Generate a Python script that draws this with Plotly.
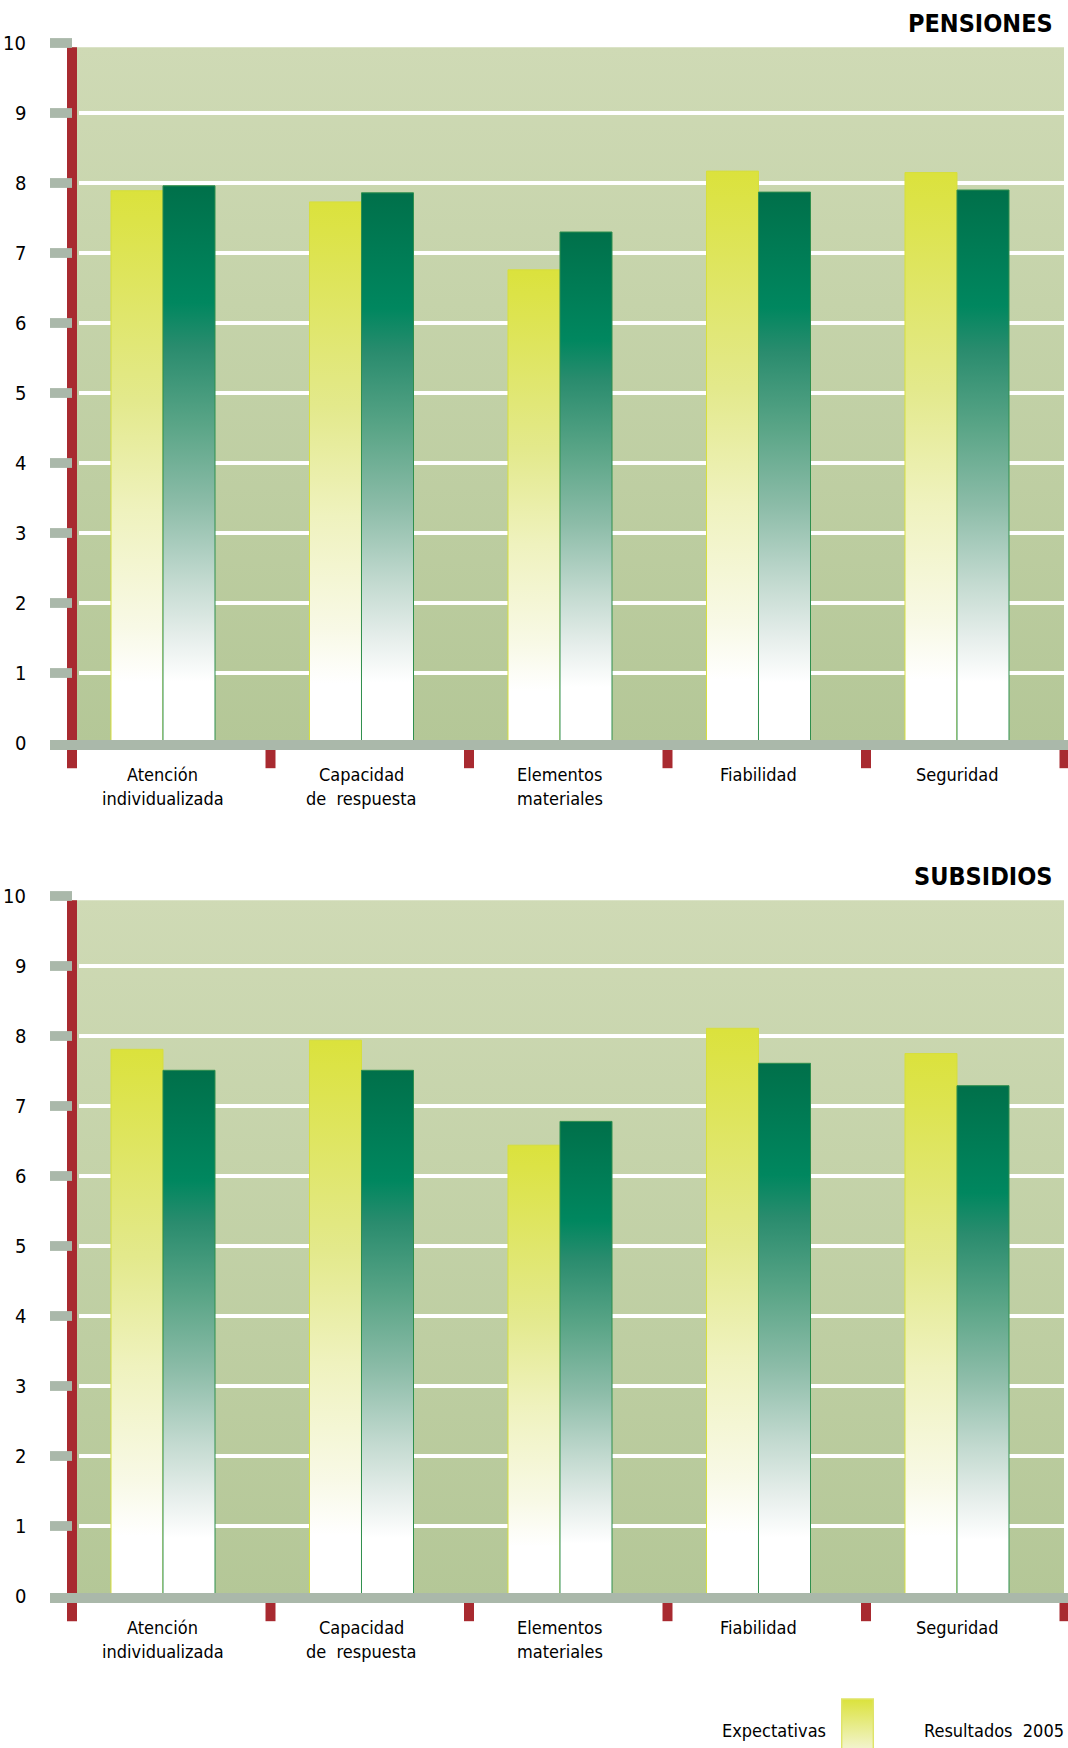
import plotly.graph_objects as go

# ---------------- data ----------------
categories = ["Atención<br>individualizada", "Capacidad<br>de  respuesta",
              "Elementos<br>materiales", "Fiabilidad", "Seguridad"]
panel_titles = ["PENSIONES", "SUBSIDIOS"]
expectativas_pensiones = [7.89, 7.73, 6.76, 8.17, 8.15]
resultados_pensiones = [7.96, 7.86, 7.30, 7.87, 7.90]
expectativas_subsidios = [7.81, 7.94, 6.44, 8.11, 7.75]
resultados_subsidios = [7.51, 7.51, 6.78, 7.61, 7.29]
y_ticks = list(range(0, 11))
legend_labels = ["Expectativas", "Resultados  2005"]

# ---------------- geometry / style ----------------
W, H = 1068, 1748
UNIT_X = 198.5          # px per category
AXIS_PX = 67            # px of left axis
LEFT_PX = 47
UNIT_Y = 70             # px per y unit
ZERO_PX = [743, 1596]   # px of y=0 in each panel
X_RANGE = [-0.5 - (AXIS_PX - LEFT_PX) / UNIT_X, -0.5 + (W - AXIS_PX) / UNIT_X]
Y_RANGE = [-0.4, 10.1]
BAR_W = 0.262
PAIR_SHIFT = -0.0164
BG_RIGHT = -0.5 + (1064 - AXIS_PX) / UNIT_X
BG_TOP = 9.94

FONT = "DejaVu Sans Condensed, sans-serif"
RED = "#A82A30"
GRAY = "#AAB8AA"
YELLOW_SCALE = [[0, "#FFFFFF"], [0.11, "#FFFFFF"], [0.21, "#F8F9E6"], [0.42, "#EFF2BE"],
                [0.62, "#E3E98C"], [1, "#DBE23C"]]
GREEN_SCALE = [[0, "#FFFFFF"], [0.11, "#FFFFFF"], [0.19, "#E6EEEB"], [0.29, "#C3DAD0"],
               [0.43, "#8CBCA8"], [0.57, "#5AA587"], [0.71, "#2A8C6E"], [0.79, "#00875F"],
               [1, "#00704A"]]
BG_SCALE = [[0, "#B4C797"], [1, "#CFDAB5"]]

panels = [
    (expectativas_pensiones, resultados_pensiones),
    (expectativas_subsidios, resultados_subsidios),
]

fig = go.Figure()
layout_axes = {}
shapes = []
annotations = []

for p, (exp_vals, res_vals) in enumerate(panels):
    xa = "x" if p == 0 else "x2"
    ya = "y" if p == 0 else "y2"
    zero = ZERO_PX[p]
    top_px = zero - Y_RANGE[1] * UNIT_Y
    bot_px = zero - Y_RANGE[0] * UNIT_Y
    xkey = "xaxis" if p == 0 else "xaxis2"
    ykey = "yaxis" if p == 0 else "yaxis2"
    layout_axes[xkey] = dict(domain=[LEFT_PX / W, 1], range=X_RANGE, visible=False,
                             anchor=ya, fixedrange=True)
    layout_axes[ykey] = dict(domain=[1 - bot_px / H, 1 - top_px / H], range=Y_RANGE,
                             visible=False, anchor=xa, fixedrange=True)

    # background gradient
    fig.add_trace(go.Scatter(
        x=[-0.5, -0.5, BG_RIGHT, BG_RIGHT, -0.5], y=[0, BG_TOP, BG_TOP, 0, 0],
        mode="lines", line=dict(width=0), fill="toself",
        fillgradient=dict(type="vertical", colorscale=BG_SCALE),
        xaxis=xa, yaxis=ya, hoverinfo="skip", showlegend=False))

    # white gridlines
    gx, gy = [], []
    for t in y_ticks:
        if 0 < t < 10:
            gx += [-0.5 + 12 / UNIT_X, BG_RIGHT, None]
            gy += [t, t, None]
    fig.add_trace(go.Scatter(x=gx, y=gy, mode="lines", line=dict(color="white", width=4),
                             xaxis=xa, yaxis=ya, hoverinfo="skip", showlegend=False))

    # bars
    for i, cat in enumerate(categories):
        c = i + PAIR_SHIFT
        for vals, x0, x1, scale, edge, name in [
            (exp_vals, c - BAR_W, c, YELLOW_SCALE, "#D6DE3E", legend_labels[0]),
            (res_vals, c, c + BAR_W, GREEN_SCALE, "#2F8F4E", legend_labels[1]),
        ]:
            v = vals[i]
            fig.add_trace(go.Scatter(
                x=[x0, x0, x1, x1, x0], y=[0, v, v, 0, 0], mode="lines",
                line=dict(color=edge, width=1), fill="toself",
                fillgradient=dict(type="vertical", colorscale=scale),
                xaxis=xa, yaxis=ya, name=name, showlegend=False,
                hovertemplate=f"{name}: {v}<extra></extra>"))

        # category labels
        for j, line in enumerate(cat.split("<br>")):
            annotations.append(dict(
                text=line, xref=xa, x=c, yref="paper",
                y=1 - (zero + (31 if j == 0 else 55)) / H,
                xanchor="center", yanchor="middle", showarrow=False,
                font=dict(family=FONT, size=18, color="#000000")))

    # red axis + red category ticks
    shapes.append(dict(type="rect", xref=xa, yref=ya, x0=-0.5, x1=-0.5 + 10 / UNIT_X,
                       y0=-0.36, y1=BG_TOP, fillcolor=RED, line=dict(width=0), layer="above"))
    for k in range(1, len(categories) + 1):
        shapes.append(dict(type="rect", xref=xa, yref=ya, x0=k - 0.5,
                           x1=k - 0.5 + 10 / UNIT_X, y0=-0.36, y1=0,
                           fillcolor=RED, line=dict(width=0), layer="above"))
    # gray base band and gray tick stubs
    stub_x0 = -0.5 - 17 / UNIT_X
    shapes.append(dict(type="rect", xref=xa, yref=ya, x0=stub_x0, x1=X_RANGE[1],
                       y0=-0.1, y1=0.043, fillcolor=GRAY, line=dict(width=0), layer="above"))
    for t in y_ticks:
        if t > 0:
            shapes.append(dict(type="rect", xref=xa, yref=ya, x0=stub_x0,
                               x1=-0.5 + 5 / UNIT_X, y0=t - 0.07, y1=t + 0.07,
                               fillcolor=GRAY, line=dict(width=0), layer="above"))
        annotations.append(dict(
            text=str(t), xref="paper", x=28 / W, yref=ya, y=t,
            xanchor="right", yanchor="middle", showarrow=False,
            font=dict(family=FONT, size=20, color="#000000")))

    # panel title
    annotations.append(dict(
        text=f"<b>{panel_titles[p]}</b>", xref="paper", x=1055 / W, yref="paper",
        y=1 - (24 if p == 0 else 876) / H, xanchor="right", yanchor="middle",
        showarrow=False, font=dict(family=FONT, size=25, color="#000000")))

# legend swatch (Expectativas)
layout_axes["xaxis3"] = dict(domain=[841 / W, 874 / W], range=[0, 1], visible=False,
                             anchor="y3", fixedrange=True)
layout_axes["yaxis3"] = dict(domain=[0, 1 - 1698 / H], range=[0, 1], visible=False,
                             anchor="x3", fixedrange=True)
fig.add_trace(go.Scatter(
    x=[0.02, 0.02, 0.98, 0.98, 0.02], y=[-0.1, 0.98, 0.98, -0.1, -0.1], mode="lines",
    line=dict(color="#DFE46A", width=1.5), fill="toself",
    fillgradient=dict(type="vertical", colorscale=[[0, "#F4F6DA"], [1, "#DBE23C"]]),
    xaxis="x3", yaxis="y3", hoverinfo="skip", showlegend=False, cliponaxis=False))

annotations.append(dict(text=legend_labels[0], xref="paper", x=828 / W, yref="paper",
                        y=1 - 1730 / H, xanchor="right", yanchor="middle", showarrow=False,
                        font=dict(family=FONT, size=18, color="#000000")))
annotations.append(dict(text=legend_labels[1], xref="paper", x=1066 / W, yref="paper",
                        y=1 - 1730 / H, xanchor="right", yanchor="middle", showarrow=False,
                        font=dict(family=FONT, size=18, color="#000000")))

fig.update_layout(
    width=W, height=H, margin=dict(l=0, r=0, t=0, b=0),
    paper_bgcolor="white", plot_bgcolor="rgba(0,0,0,0)",
    shapes=shapes, annotations=annotations, showlegend=False,
    font=dict(family=FONT),
    **layout_axes,
)

fig.write_html("out.html",
               config={"displayModeBar": False},
               post_script="document.body.style.margin='0';document.body.style.padding='0';")
